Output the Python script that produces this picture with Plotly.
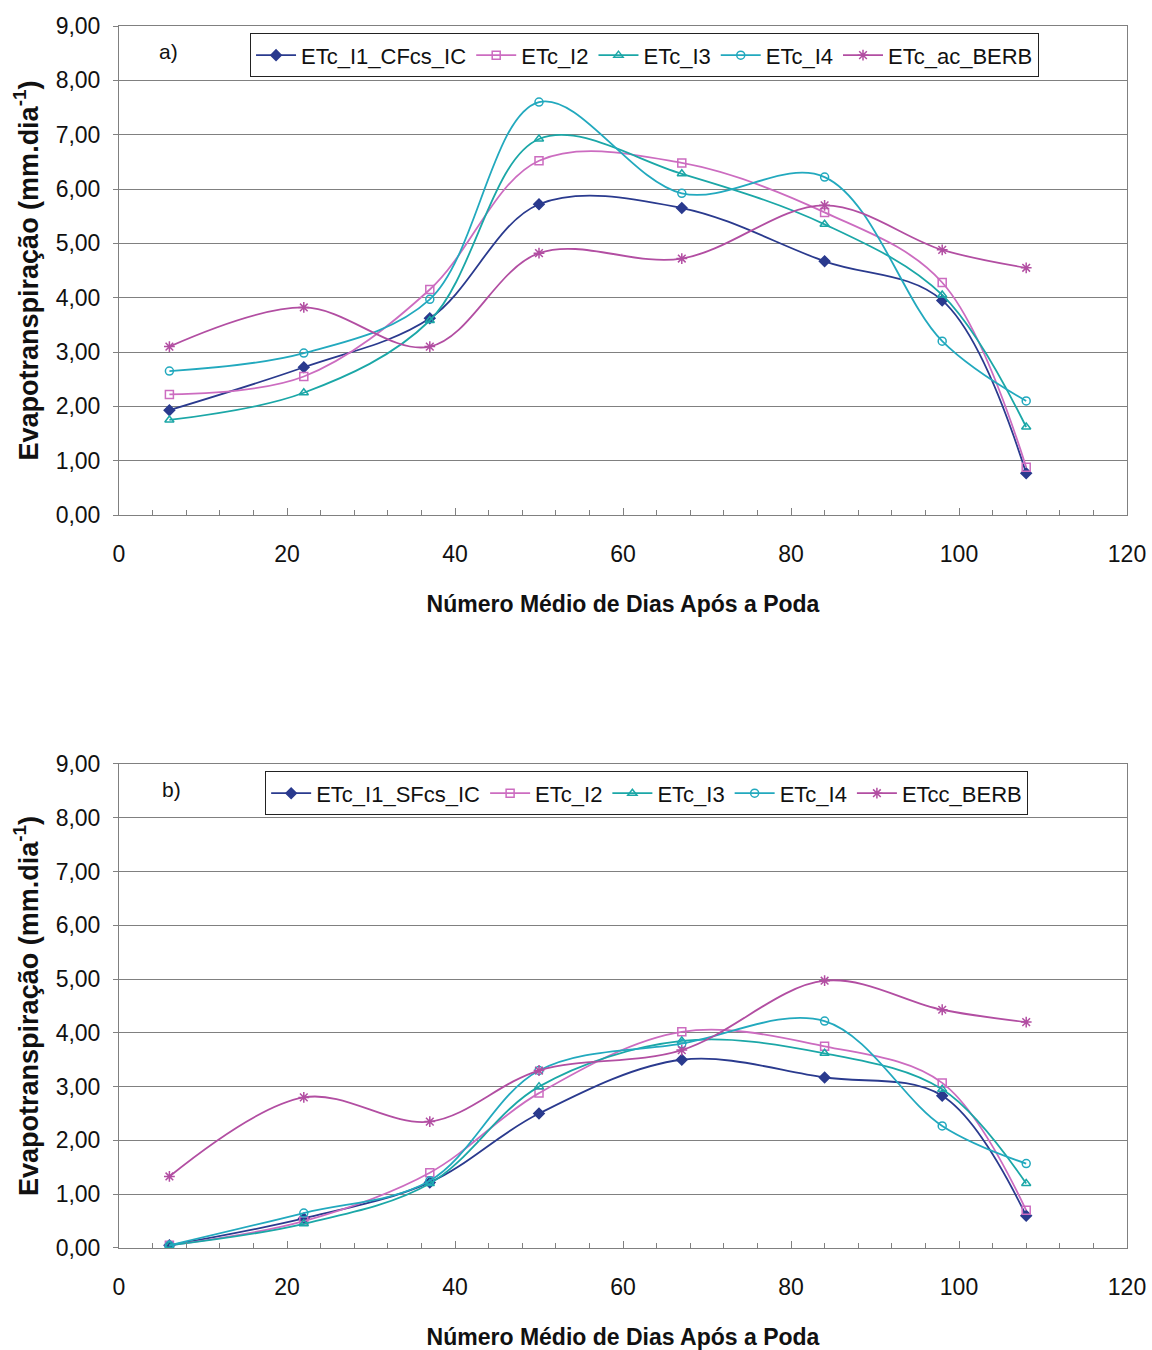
import plotly.graph_objects as go
from plotly.subplots import make_subplots

dias = [6, 22, 37, 50, 67, 84, 98, 108]

# Chart a)
a_I1 = [1.93, 2.72, 3.62, 5.72, 5.65, 4.67, 3.95, 0.77]
a_I2 = [2.22, 2.55, 4.15, 6.52, 6.48, 5.57, 4.28, 0.88]
a_I3 = [1.75, 2.25, 3.58, 6.92, 6.28, 5.35, 4.05, 1.62]
a_I4 = [2.65, 2.98, 3.97, 7.60, 5.92, 6.22, 3.20, 2.10]
a_BERB = [3.10, 3.82, 3.10, 4.82, 4.72, 5.70, 4.88, 4.55]
a_names = ["ETc_I1_CFcs_IC", "ETc_I2", "ETc_I3", "ETc_I4", "ETc_ac_BERB"]

# Chart b)
b_I1 = [0.05, 0.55, 1.22, 2.50, 3.50, 3.17, 2.83, 0.60]
b_I2 = [0.05, 0.50, 1.40, 2.88, 4.02, 3.75, 3.07, 0.70]
b_I3 = [0.05, 0.45, 1.20, 3.00, 3.85, 3.62, 2.95, 1.20]
b_I4 = [0.05, 0.65, 1.25, 3.30, 3.80, 4.22, 2.27, 1.57]
b_BERB = [1.33, 2.80, 2.35, 3.30, 3.68, 4.97, 4.43, 4.20]
b_names = ["ETc_I1_SFcs_IC", "ETc_I2", "ETc_I3", "ETc_I4", "ETcc_BERB"]

colors = ["#2A3A8E", "#CC6CC0", "#1BA7A7", "#22A9BE", "#B24EA2"]
symbols = ["diamond", "square-open", "triangle-up-open", "circle-open", "asterisk-open"]
sizes = [8, 8, 8, 8, 9]

fig = make_subplots(rows=2, cols=1, vertical_spacing=0.2)

for row, series, names, leg in [
    (1, [a_I1, a_I2, a_I3, a_I4, a_BERB], a_names, "legend"),
    (2, [b_I1, b_I2, b_I3, b_I4, b_BERB], b_names, "legend2"),
]:
    for vals, name, col, sym, sz in zip(series, names, colors, symbols, sizes):
        fig.add_trace(
            go.Scatter(
                x=dias, y=vals, name=name, mode="lines+markers",
                line=dict(color=col, width=1.8, shape="spline", smoothing=1.0),
                marker=dict(symbol=sym, size=sz, color=col,
                            line=dict(color=col, width=1.5)),
                legend=leg,
            ),
            row=row, col=1,
        )

font_main = "Liberation Sans, Arial, sans-serif"

axis_x = dict(
    range=[0, 120], dtick=20, tick0=0, automargin=False,
    showgrid=False, zeroline=False,
    showline=True, linecolor="#808080", linewidth=1, mirror=True,
    ticks="inside", ticklen=7, tickcolor="#808080",
    minor=dict(dtick=4, ticks="inside", ticklen=5, tickcolor="#808080", showgrid=False),
    tickfont=dict(family=font_main, size=23, color="#111"),
    ticklabelstandoff=18,
    title=dict(text="<b>Número Médio de Dias Após a Poda</b>",
               font=dict(family=font_main, size=23, color="#111"), standoff=30),
)
axis_y = dict(
    range=[0, 9], dtick=1, tickformat=".2f", automargin=False,
    showgrid=True, gridcolor="#808080", gridwidth=1, zeroline=False,
    showline=True, linecolor="#808080", linewidth=1, mirror=True,
    ticks="outside", ticklen=5, tickcolor="#808080",
    tickfont=dict(family=font_main, size=23, color="#111"),
    ticklabelstandoff=8,
    title=dict(text="<b>Evapotranspiração (mm.dia<sup>-1</sup>)</b>",
               font=dict(family=font_main, size=27, color="#111"), standoff=9),
)

fig.update_xaxes(**axis_x)
fig.update_yaxes(**axis_y)
fig.update_layout(
    xaxis=dict(domain=[0, 1]),
    yaxis=dict(domain=[0.5998, 1.0]),
    yaxis2=dict(domain=[0.0, 0.3961]),
)

legend_common = dict(
    orientation="h", bgcolor="white", bordercolor="#222", borderwidth=1,
    font=dict(family=font_main, size=22, color="#111"),
    xanchor="left", yanchor="top", itemsizing="trace",
    tracegroupgap=0, itemwidth=40,
)
fig.update_layout(
    legend=dict(x=0.130, y=0.994, **legend_common),
    legend2=dict(x=0.145, y=0.390, **legend_common),
)

fig.add_annotation(text="a)", x=0.038, y=0.99, xref="paper", yref="paper",
                   showarrow=False, xanchor="left", yanchor="top",
                   font=dict(family=font_main, size=21, color="#111"))
fig.add_annotation(text="b)", x=0.041, y=0.386, xref="paper", yref="paper",
                   showarrow=False, xanchor="left", yanchor="top",
                   font=dict(family=font_main, size=21, color="#111"))

fig.update_layout(
    width=1152, height=1350,
    margin=dict(l=119, r=25, t=26, b=102, autoexpand=False),
    paper_bgcolor="white", plot_bgcolor="white",
    separators=",.",
    showlegend=True,
)

fig.write_html(
    "out.html",
    config={"displayModeBar": False},
    post_script="document.body.style.margin='0';"
                "document.documentElement.style.overflow='hidden';"
                "document.body.style.overflow='hidden';",
)
